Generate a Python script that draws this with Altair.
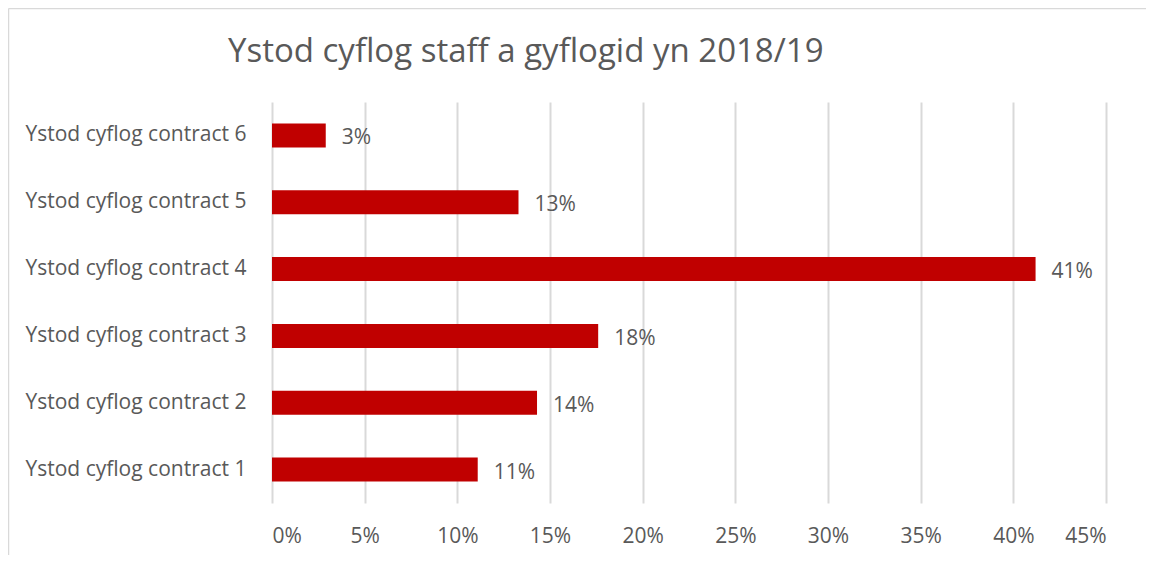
import altair as alt
import pandas as pd

categories = [
    "Ystod cyflog contract 6",
    "Ystod cyflog contract  5",
    "Ystod cyflog contract 4",
    "Ystod cyflog contract 3",
    "Ystod cyflog contract 2",
    "Ystod cyflog contract 1",
]
values = [0.029, 0.133, 0.412, 0.176, 0.143, 0.111]
x_ticks = [0, 0.05, 0.10, 0.15, 0.20, 0.25, 0.30, 0.35, 0.40, 0.45]
title_text = "Ystod cyflog staff a gyflogid yn 2018/19"

df = pd.DataFrame({"category": categories, "value": values})

FONT = "Open Sans"
TXT = "#595959"
FS = 21

y_enc = alt.Y(
    "category:N",
    sort=categories,
    title=None,
    scale=alt.Scale(paddingInner=0.64, paddingOuter=0.32),
    axis=alt.Axis(
        labelAlign="left",
        labelPadding=247,
        labelLimit=400,
        ticks=False,
        domain=False,
        grid=False,
        labelFontSize=FS,
        labelColor=TXT,
        labelFont=FONT,
    ),
)
x_enc = alt.X(
    "value:Q",
    title=None,
    scale=alt.Scale(domain=[0, 0.45], nice=False),
    axis=alt.Axis(
        values=x_ticks,
        format=".0%",
        grid=True,
        gridColor="#d9d9d9",
        gridWidth=2,
        domain=False,
        ticks=False,
        labelPadding=22,
        labelFontSize=FS,
        labelColor=TXT,
        labelFont=FONT,
    ),
)

bars = alt.Chart(df).mark_bar(color="#C00000").encode(x=x_enc, y=y_enc)

labels = alt.Chart(df).mark_text(
    align="left", baseline="middle", dx=16, dy=3, fontSize=FS, color=TXT, font=FONT
).encode(
    x="value:Q",
    y=alt.Y("category:N", sort=categories),
    text=alt.Text("value:Q", format=".0%"),
)

title = alt.Chart(df.head(1)).mark_text(
    align="left", baseline="alphabetic", fontSize=33, color=TXT, font=FONT
).encode(
    x=alt.value(-44), y=alt.value(-40), text=alt.value(title_text)
)

border_left = alt.Chart(df.head(1)).mark_rule(
    stroke="#d9d9d9", strokeWidth=1.5
).encode(
    x=alt.value(-263.5), y=alt.value(-93.5), y2=alt.value(500)
)
border_top = alt.Chart(df.head(1)).mark_rule(
    stroke="#d9d9d9", strokeWidth=1.5
).encode(
    x=alt.value(-263.5), x2=alt.value(900), y=alt.value(-93.5)
)

chart = (
    alt.layer(border_left, border_top, bars, labels, title)
    .properties(
        width=834,
        height=401,
        background="white",
        autosize=alt.AutoSizeParams(type="none"),
        padding={"left": 264, "top": 94, "right": 40, "bottom": 52},
    )
    .configure_view(stroke="transparent", strokeWidth=0)
)

chart.save("out.html", embed_options={"renderer": "svg", "actions": False})
